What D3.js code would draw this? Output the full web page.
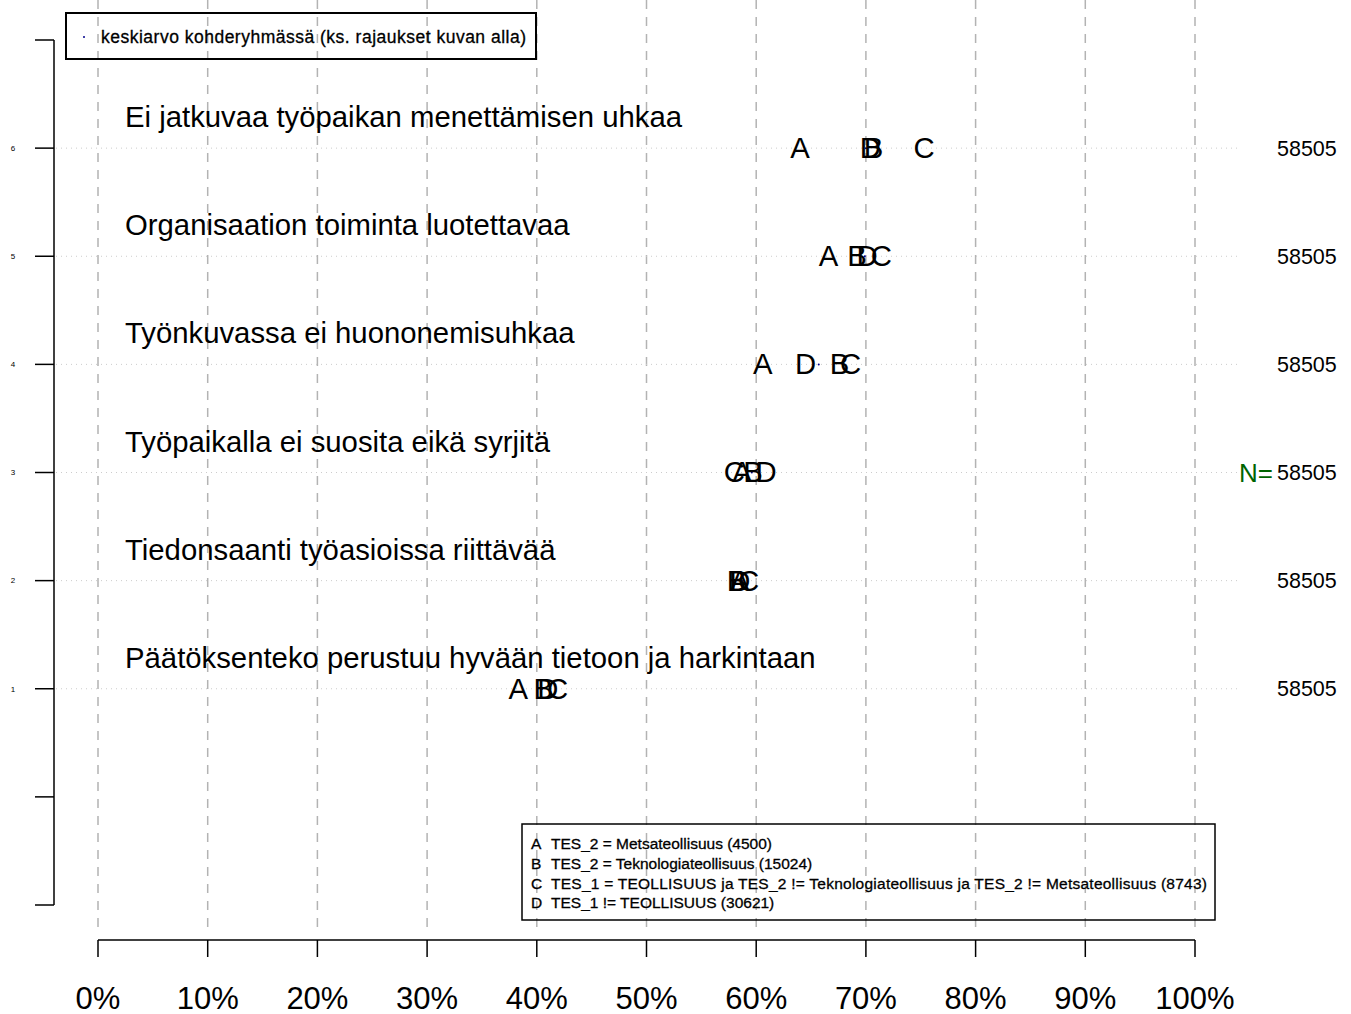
<!DOCTYPE html>
<html>
<head>
<meta charset="utf-8">
<script src="https://cdn.jsdelivr.net/npm/d3@7"></script>
<style>
  body { margin: 0; background: #fff; }
  svg { font-family: "Liberation Sans", Arial, sans-serif; }
</style>
</head>
<body>
<div id="chart"></div>
<script>
// rows from bottom (1) to top (6)
const questions = [
  "Päätöksenteko perustuu hyvään tietoon ja harkintaan",
  "Tiedonsaanti työasioissa riittävää",
  "Työpaikalla ei suosita eikä syrjitä",
  "Työnkuvassa ei huononemisuhkaa",
  "Organisaation toiminta luotettavaa",
  "Ei jatkuvaa työpaikan menettämisen uhkaa"
];
const groups = ["A", "B", "C", "D"];
const valuesA = [0.383, 0.585, 0.587, 0.606, 0.666, 0.640];
const valuesB = [0.406, 0.582, 0.597, 0.676, 0.692, 0.707];
const valuesC = [0.419, 0.593, 0.580, 0.686, 0.714, 0.753];
const valuesD = [0.410, 0.585, 0.609, 0.645, 0.701, 0.704];
const means   = [0.405, 0.587, 0.596, 0.657, 0.699, 0.700];
const counts  = [58505, 58505, 58505, 58505, 58505, 58505];
const xTicks  = [0, 0.1, 0.2, 0.3, 0.4, 0.5, 0.6, 0.7, 0.8, 0.9, 1];
const yTicks  = [-1, 0, 1, 2, 3, 4, 5, 6, 7];
const legendLines = [
  "TES_2 = Metsateollisuus (4500)",
  "TES_2 = Teknologiateollisuus (15024)",
  "TES_1 = TEOLLISUUS ja TES_2 != Teknologiateollisuus ja TES_2 != Metsateollisuus (8743)",
  "TES_1 != TEOLLISUUS (30621)"
];

const series = [valuesA, valuesB, valuesC, valuesD];
const W = 1351, H = 1014;

const svg = d3.select("#chart").append("svg")
  .attr("width", W).attr("height", H);

const x = d3.scaleLinear().domain([0, 1]).range([98, 1195]);
const y = d3.scaleLinear().domain([-1, 7]).range([905, 40]);

// vertical dashed grid
svg.append("g").selectAll("line")
  .data(xTicks).enter().append("line")
  .attr("x1", d => x(d)).attr("x2", d => x(d))
  .attr("y1", 0).attr("y2", 930)
  .attr("stroke", "#b3b3b3").attr("stroke-width", 1.5)
  .attr("stroke-dasharray", "9,8");

// horizontal dotted lines
const rows = d3.range(1, questions.length + 1);
svg.append("g").selectAll("line")
  .data(rows).enter().append("line")
  .attr("x1", 56).attr("x2", 1240)
  .attr("y1", d => y(d)).attr("y2", d => y(d))
  .attr("stroke", "#cccccc").attr("stroke-width", 1)
  .attr("stroke-dasharray", "1,4");

// left axis
const yAxis = svg.append("g").attr("transform", "translate(54,0)");
yAxis.append("line").attr("x1", 0).attr("x2", 0)
  .attr("y1", y(7)).attr("y2", y(-1))
  .attr("stroke", "#000").attr("stroke-width", 1.5);
yAxis.selectAll(".tick").data(yTicks).enter().append("line")
  .attr("x1", -19).attr("x2", 0)
  .attr("y1", d => y(d)).attr("y2", d => y(d))
  .attr("stroke", "#000").attr("stroke-width", 1.5);
yAxis.selectAll("text").data(rows).enter().append("text")
  .attr("x", -41).attr("y", d => y(d)).attr("dy", "0.35em")
  .attr("text-anchor", "middle").attr("font-size", 8)
  .text(d => d);

// bottom axis
const xAxis = svg.append("g").attr("transform", "translate(0,940)");
xAxis.append("line").attr("x1", x(0)).attr("x2", x(1))
  .attr("y1", 0).attr("y2", 0).attr("stroke", "#000").attr("stroke-width", 1.5);
xAxis.selectAll(".tick").data(xTicks).enter().append("line")
  .attr("x1", d => x(d)).attr("x2", d => x(d))
  .attr("y1", 0).attr("y2", 17)
  .attr("stroke", "#000").attr("stroke-width", 1.5);
xAxis.selectAll("text").data(xTicks).enter().append("text")
  .attr("x", d => x(d)).attr("y", 69)
  .attr("text-anchor", "middle").attr("font-size", 31)
  .text(d => d3.format(".0%")(d));

// question labels
svg.append("g").selectAll("text")
  .data(questions).enter().append("text")
  .attr("x", 125).attr("y", (d, i) => y(i + 1) - 21)
  .attr("font-size", 29.3)
  .text(d => d);

// means
svg.append("g").selectAll("circle")
  .data(means).enter().append("circle")
  .attr("cx", d => x(d)).attr("cy", (d, i) => y(i + 1))
  .attr("r", 1).attr("fill", "#00008b");

// group letters
series.forEach((vals, gi) => {
  svg.append("g").selectAll("text")
    .data(vals).enter().append("text")
    .attr("x", d => x(d)).attr("y", (d, i) => y(i + 1))
    .attr("dy", "0.34em")
    .attr("text-anchor", "middle").attr("font-size", 29.3)
    .text(groups[gi]);
});

// N counts
svg.append("g").selectAll("text")
  .data(counts).enter().append("text")
  .attr("x", 1277).attr("y", (d, i) => y(i + 1)).attr("dy", "0.36em")
  .attr("font-size", 21.5)
  .text(d => d);
svg.append("text")
  .attr("x", 1273).attr("y", y(3)).attr("dy", "0.36em")
  .attr("text-anchor", "end").attr("font-size", 26)
  .attr("fill", "#006400").text("N=");

// top legend
svg.append("rect").attr("x", 66).attr("y", 13).attr("width", 470).attr("height", 46)
  .attr("fill", "none").attr("stroke", "#000").attr("stroke-width", 2);
svg.append("circle").attr("cx", 84).attr("cy", 37).attr("r", 1).attr("fill", "#00008b");
svg.append("text").attr("x", 101).attr("y", 37).attr("dy", "0.35em")
  .attr("font-size", 17.5).attr("textLength", 425)
  .attr("stroke", "#000").attr("stroke-width", 0.3)
  .text("keskiarvo kohderyhmässä (ks. rajaukset kuvan alla)");

// bottom legend
svg.append("rect").attr("x", 522).attr("y", 824).attr("width", 693).attr("height", 96)
  .attr("fill", "none").attr("stroke", "#000").attr("stroke-width", 1.5);
const lg = svg.append("g").selectAll("g")
  .data(legendLines).enter().append("g")
  .attr("transform", (d, i) => `translate(531,${844 + i * 19.6})`);
lg.append("text").attr("dy", "0.35em").attr("font-size", 15.5)
  .attr("stroke", "#000").attr("stroke-width", 0.3)
  .text((d, i) => groups[i]);
lg.append("text").attr("x", 20).attr("dy", "0.35em").attr("font-size", 15.5)
  .attr("stroke", "#000").attr("stroke-width", 0.3)
  .attr("textLength", (d, i) => i === 2 ? 656 : null)
  .text(d => d);
</script>
</body>
</html>
